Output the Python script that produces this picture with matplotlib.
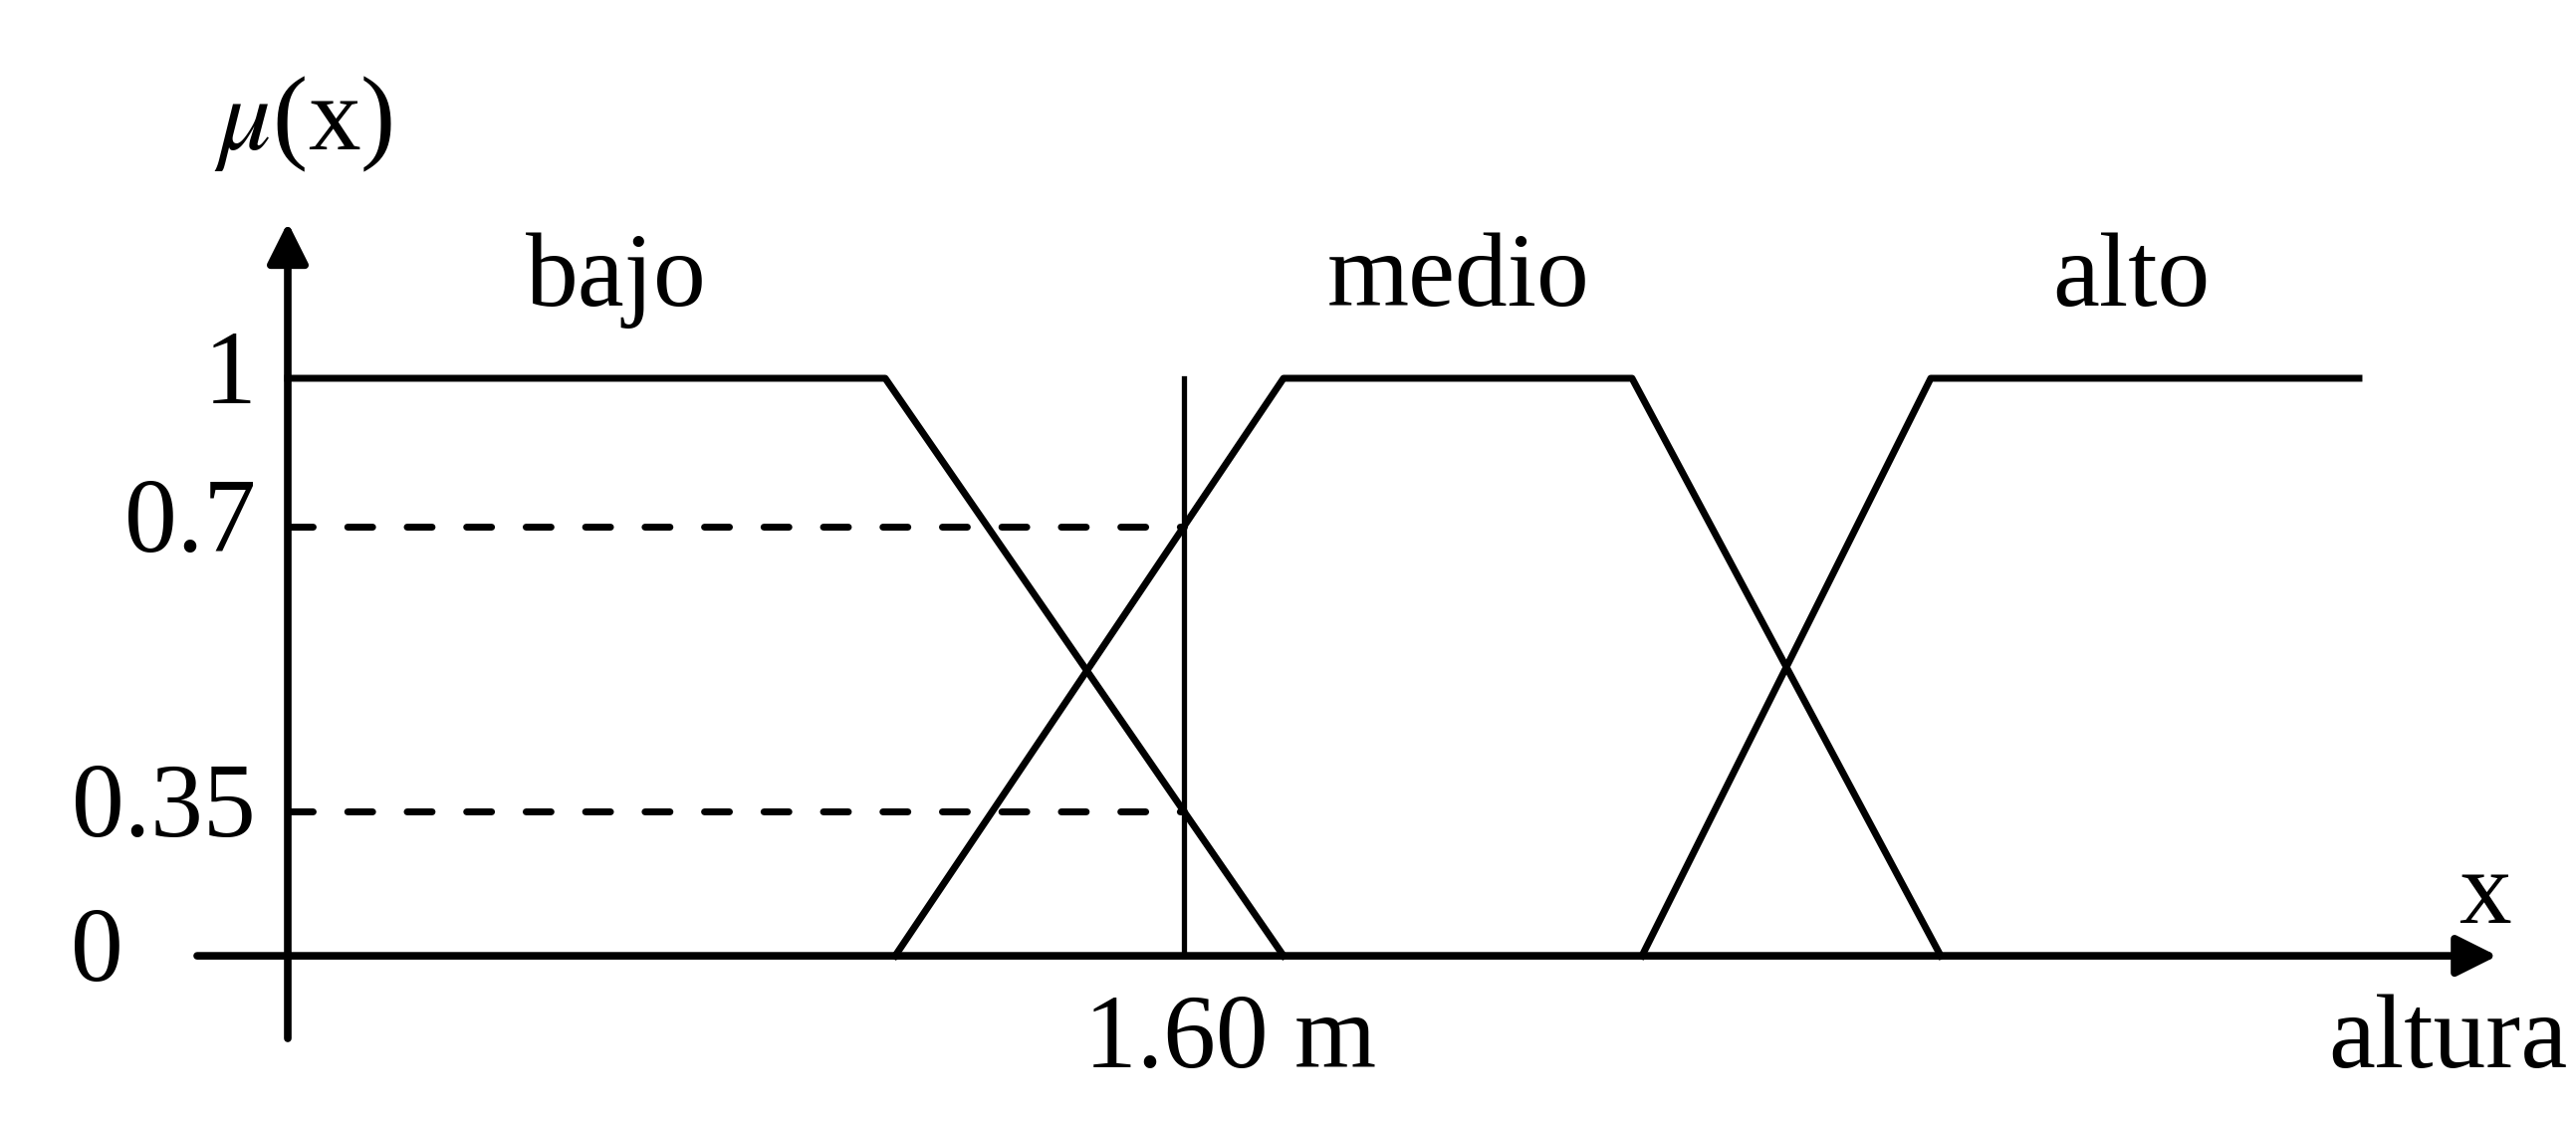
import numpy as np
import matplotlib
matplotlib.use('Agg')
import matplotlib.pyplot as plt

plt.rcParams['font.family'] = ['Liberation Serif', 'DejaVu Serif']
plt.rcParams['mathtext.fontset'] = 'stix'

# membership functions (trapezoids), x in arbitrary units from the y axis
bajo_x = [0.0, 6.0, 10.0]
bajo_mu = [1.0, 1.0, 0.0]
medio_x = [6.1, 10.0, 13.5, 16.6]
medio_mu = [0.0, 1.0, 1.0, 0.0]
alto_x = [13.6, 16.5, 20.8]
alto_mu = [0.0, 1.0, 1.0]

labels = ['bajo', 'medio', 'alto']
label_x = [3.30, 11.76, 18.51]

x_cut = 9.0            # 1.60 m
cut_label = '1.60 m'

# membership degrees at 1.60 m
mu_medio = np.interp(x_cut, medio_x, medio_mu)
mu_bajo = np.interp(x_cut, bajo_x, bajo_mu)
level_vals = [1.0, mu_medio, mu_bajo, 0.0]
level_txt = ['1', '0.7', '0.35', '0']

fig = plt.figure(figsize=(25.87, 11.26), dpi=100)
ax = fig.add_axes([0, 0, 1, 1])
ax.set_xlim(-2.89, 22.98)
ax.set_ylim(-0.286, 1.655)
ax.axis('off')

lw = 5.0
ax.plot(bajo_x, bajo_mu, color='black', lw=lw, solid_joinstyle='round')
ax.plot(medio_x, medio_mu, color='black', lw=lw, solid_joinstyle='round')
ax.plot(alto_x, alto_mu, color='black', lw=lw, solid_joinstyle='round')

# vertical line at 1.60 m and dashed projections
ax.plot([x_cut, x_cut], [0, 1], color='black', lw=3.8)
for lv in [mu_medio, mu_bajo]:
    ax.plot([0, x_cut], [lv, lv], color='black', lw=5.0,
            dashes=(3.6, 5.0), dash_capstyle='round')

# axes with arrows
arr = dict(arrowstyle='-|>', lw=5.5, color='black', mutation_scale=62,
           shrinkA=0, shrinkB=0)
ax.annotate('', xy=(0, 1.27), xytext=(0, -0.143), arrowprops=arr)
ax.annotate('', xy=(22.19, 0), xytext=(-0.91, 0), arrowprops=arr)

fs = 76
for t, xx in zip(labels, label_x):
    ax.text(xx, 1.17, t, fontsize=fs, ha='center', va='center')

for lv, t in zip(level_vals, level_txt):
    xr = -1.65 if t == '0' else -0.32
    ax.text(xr, lv, t, fontsize=fs, ha='right', va='center')

ax.text(0.16, 1.44, r'$\mu$(x)', fontsize=fs, ha='center', va='center')
ax.text(x_cut + 0.47, -0.15, cut_label, fontsize=fs, ha='center', va='center')
ax.text(22.06, 0.10, 'x', fontsize=fs, ha='center', va='center')
ax.text(21.69, -0.15, 'altura', fontsize=fs, ha='center', va='center')

fig.savefig('out.png', dpi=100, facecolor='white')
